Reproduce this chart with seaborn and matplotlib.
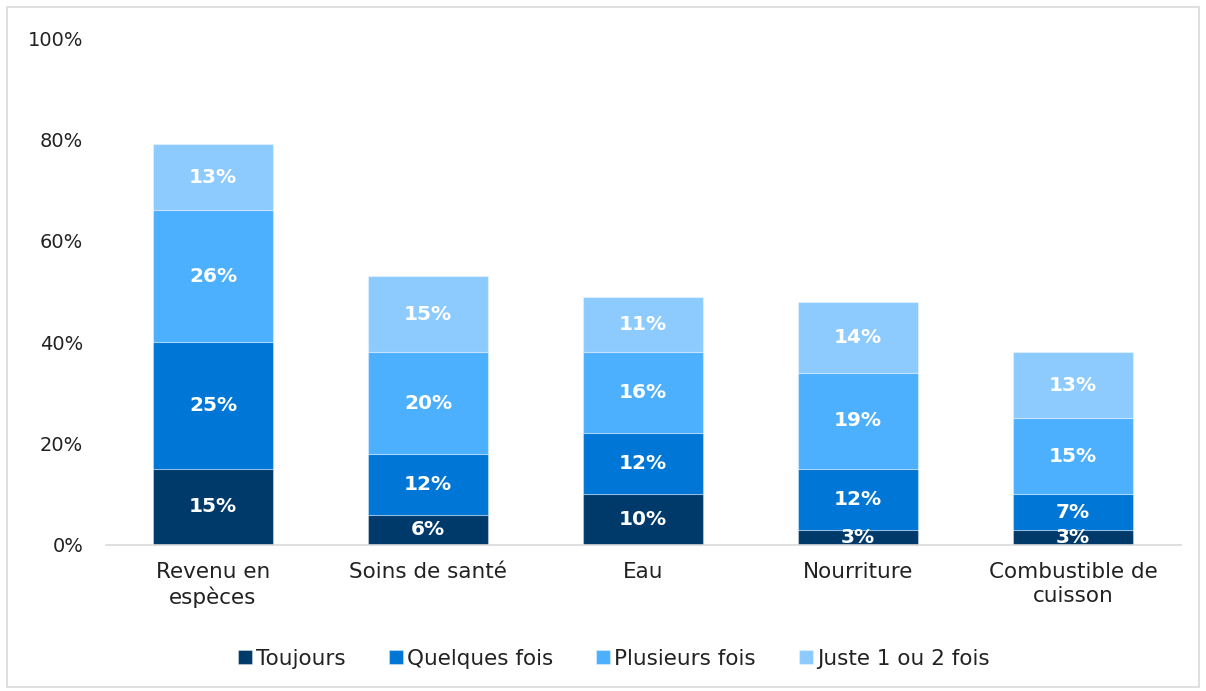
import numpy as np
import pandas as pd
import matplotlib
matplotlib.use("Agg")
import matplotlib.pyplot as plt
import seaborn as sns
from matplotlib.patches import Rectangle

# DATA

categories = ["Revenu en\nespèces", "Soins de santé", "Eau", "Nourriture", "Combustible de\ncuisson"]
series = ["Toujours", "Quelques fois", "Plusieurs fois", "Juste 1 ou 2 fois"]
toujours = [15, 6, 10, 3, 3]
quelques = [25, 12, 12, 12, 7]
plusieurs = [26, 20, 16, 19, 15]
juste = [13, 15, 11, 14, 13]
colors = ["#003A6B", "#0076D6", "#4DB0FF", "#8DCBFF"]

sns.set_style("white")
plt.rcParams['font.family'] = ['DejaVu Sans']

fig = plt.figure(figsize=(12.06, 6.91), dpi=100)
ax = fig.add_axes([0.0875, 0.2113, 0.8914, 0.7337])

# STACKED BARS

bottom = np.zeros(len(categories))
for name, vals, col in zip(series, [toujours, quelques, plusieurs, juste], colors):
    df = pd.DataFrame({"cat": categories, "val": vals})
    sns.barplot(data=df, x="cat", y="val", color=col, saturation=1, bottom=bottom,
                width=0.56, edgecolor=(1, 1, 1, 0.35), linewidth=0.8, ax=ax, label=name)
    for i, v in enumerate(vals):
        ax.text(i, bottom[i] + v / 2, f"{v}%", ha="center", va="center",
                color="white", fontsize=14.5, fontweight="bold", clip_on=True)
    bottom = bottom + np.array(vals)

handles, labels = ax.get_legend_handles_labels()
if ax.get_legend() is not None:
    ax.get_legend().remove()

# AXES

ax.set_xlim(-0.5, 4.5)
ax.set_ylim(0, 100)
ax.set_yticks([0, 20, 40, 60, 80, 100])
ax.set_yticklabels([f"{t}%" for t in [0, 20, 40, 60, 80, 100]], fontsize=14, color="#222222")
ax.tick_params(axis="x", labelsize=15.5, colors="#222222", length=0, pad=12)
ax.tick_params(axis="y", length=0, pad=16)
for lbl in ax.get_xticklabels():
    lbl.set_linespacing(1.3)
ax.set_xlabel("")
ax.set_ylabel("")
for s in ["top", "right", "left"]:
    ax.spines[s].set_visible(False)
ax.spines["bottom"].set_color("#D9D9D9")
ax.spines["bottom"].set_linewidth(1.2)

# LEGEND

fig.legend(handles, labels, loc="center", bbox_to_anchor=(0.509, 0.047), ncol=4,
           frameon=False, fontsize=15.5, handlelength=0.65, handleheight=0.65,
           handletextpad=0.2, columnspacing=2.0, labelcolor="#222222")

# FRAME

fig.patches.append(Rectangle((0.006, 0.006), 0.988, 0.984, transform=fig.transFigure,
                             fill=False, edgecolor="#D9D9D9", linewidth=1.2))

fig.savefig("out.png", dpi=100)
